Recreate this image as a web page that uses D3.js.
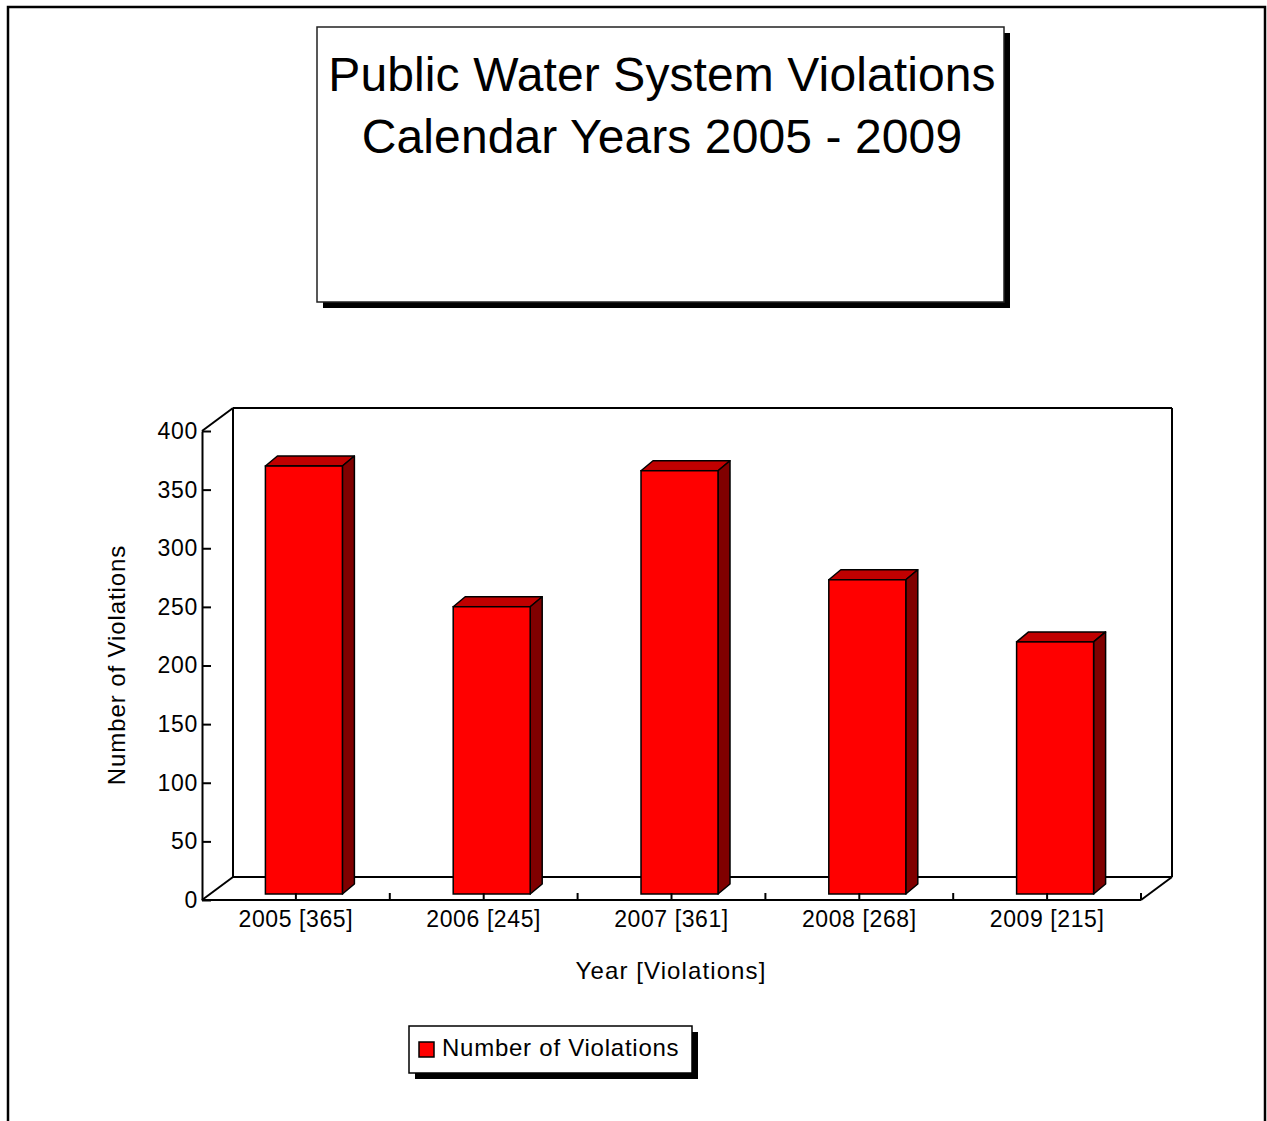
<!DOCTYPE html>
<html>
<head>
<meta charset="utf-8">
<script src="https://cdn.jsdelivr.net/npm/d3@7"></script>
<style>
  body { margin: 0; background: #fff; }
  text { font-family: "Liberation Sans", Arial, sans-serif; fill: #000; }
</style>
</head>
<body>
<div id="chart"></div>
<script>
// chart data
var years = ['2005', '2006', '2007', '2008', '2009'];
var violations = [365, 245, 361, 268, 215];
var yTicks = [0, 50, 100, 150, 200, 250, 300, 350, 400];
var titleLines = ['Public Water System Violations', 'Calendar Years 2005 - 2009'];
var seriesName = 'Number of Violations';

var width = 1267, height = 1121;

var svg = d3.select('#chart').append('svg')
    .attr('width', width)
    .attr('height', height);

// outer frame
svg.append('rect')
    .attr('x', 8).attr('y', 7)
    .attr('width', 1257).attr('height', 1140)
    .attr('fill', 'none')
    .attr('stroke', '#000')
    .attr('stroke-width', 2.5);

// title box with drop shadow
svg.append('rect')
    .attr('x', 323).attr('y', 33)
    .attr('width', 687).attr('height', 275)
    .attr('fill', '#000');
svg.append('rect')
    .attr('x', 317).attr('y', 27)
    .attr('width', 687).attr('height', 275)
    .attr('fill', '#fff')
    .attr('stroke', '#222')
    .attr('stroke-width', 1.5);

svg.append('g').selectAll('text')
    .data(titleLines)
    .enter().append('text')
    .attr('x', 662)
    .attr('y', (d, i) => 91 + i * 62)
    .attr('text-anchor', 'middle')
    .style('font-size', '48px')
    .style('letter-spacing', '0.1px')
    .text(d => d);

// plot geometry (pseudo 3D box)
var x0 = 202, x1 = 1141, yBase = 900, yTop = 431;
var depth = { dx: 31, dy: -23 };     // wall depth
var barOff = { dx: 8, dy: -6 };      // bar front face position in depth
var barDepth = { dx: 12, dy: -10 };  // bar thickness

var x = d3.scaleBand()
    .domain(years)
    .range([x0, x1]);

var y = d3.scaleLinear()
    .domain([0, 400])
    .range([yBase, yTop]);

var g = svg.append('g');

// back wall + floor outline
var line = d3.line();
var wall = [
    [[x0, y(400)], [x0 + depth.dx, y(400) + depth.dy]],
    [[x0 + depth.dx, y(400) + depth.dy], [x1 + depth.dx, y(400) + depth.dy]],
    [[x1 + depth.dx, y(400) + depth.dy], [x1 + depth.dx, yBase + depth.dy]],
    [[x0 + depth.dx, y(400) + depth.dy], [x0 + depth.dx, yBase + depth.dy]],
    [[x0 + depth.dx, yBase + depth.dy], [x1 + depth.dx, yBase + depth.dy]],
    [[x0, yBase], [x0 + depth.dx, yBase + depth.dy]],
    [[x1, yBase], [x1 + depth.dx, yBase + depth.dy]]
];
g.selectAll('path.wall')
    .data(wall)
    .enter().append('path')
    .attr('class', 'wall')
    .attr('d', line)
    .attr('fill', 'none')
    .attr('stroke', '#000')
    .attr('stroke-width', 2);

// bars
var bw = x.bandwidth() * 0.41;
var bars = g.selectAll('g.bar')
    .data(years.map((d, i) => ({ year: d, value: violations[i] })))
    .enter().append('g')
    .attr('class', 'bar');

function barGeom(d) {
    var cx = x(d.year) + x.bandwidth() / 2 + barOff.dx;
    var left = cx - bw / 2, right = cx + bw / 2;
    var bottom = y(0) + barOff.dy, top = y(d.value) + barOff.dy;
    return { left: left, right: right, bottom: bottom, top: top };
}

bars.append('path')   // top face
    .attr('d', d => {
        var b = barGeom(d);
        return line([[b.left, b.top], [b.left + barDepth.dx, b.top + barDepth.dy],
            [b.right + barDepth.dx, b.top + barDepth.dy], [b.right, b.top]]) + 'Z';
    })
    .attr('fill', '#c00000')
    .attr('stroke', '#000')
    .attr('stroke-width', 1.5)
    .attr('stroke-linejoin', 'round');

bars.append('path')   // side face
    .attr('d', d => {
        var b = barGeom(d);
        return line([[b.right, b.top], [b.right + barDepth.dx, b.top + barDepth.dy],
            [b.right + barDepth.dx, b.bottom + barDepth.dy], [b.right, b.bottom]]) + 'Z';
    })
    .attr('fill', '#800000')
    .attr('stroke', '#000')
    .attr('stroke-width', 1.5)
    .attr('stroke-linejoin', 'round');

bars.append('rect')   // front face
    .attr('x', d => barGeom(d).left)
    .attr('y', d => barGeom(d).top)
    .attr('width', bw)
    .attr('height', d => barGeom(d).bottom - barGeom(d).top)
    .attr('fill', '#ff0000')
    .attr('stroke', '#000')
    .attr('stroke-width', 1.5);

// y axis
var yAxis = d3.axisLeft(y)
    .tickValues(yTicks)
    .tickSizeInner(-9)
    .tickSizeOuter(0)
    .tickPadding(4);

var yg = svg.append('g')
    .attr('transform', 'translate(' + x0 + ',0)')
    .call(yAxis);
yg.select('.domain').attr('stroke-width', 2);
yg.selectAll('.tick line').attr('stroke-width', 2);
yg.selectAll('.tick text')
    .attr('fill', '#000')
    .style('font-size', '23px')
    .style('letter-spacing', '0.7px')
    .style('font-family', '"Liberation Sans", Arial, sans-serif');

// x axis: line, half-band ticks, labels
svg.append('path')
    .attr('d', line([[x0, yBase], [x1, yBase]]))
    .attr('stroke', '#000')
    .attr('stroke-width', 2);

var tickXs = [];
years.forEach(d => {
    tickXs.push(x(d) + x.bandwidth() / 2);
    tickXs.push(x(d) + x.bandwidth());
});
svg.append('g').selectAll('line')
    .data(tickXs)
    .enter().append('line')
    .attr('x1', d => d).attr('x2', d => d)
    .attr('y1', yBase).attr('y2', yBase - 7)
    .attr('stroke', '#000')
    .attr('stroke-width', 2);

svg.append('g').selectAll('text')
    .data(years)
    .enter().append('text')
    .attr('x', d => x(d) + x.bandwidth() / 2)
    .attr('y', 927)
    .attr('text-anchor', 'middle')
    .style('font-size', '23px')
    .style('letter-spacing', '0.6px')
    .text((d, i) => d + ' [' + violations[i] + ']');

// axis titles
svg.append('text')
    .attr('x', 671).attr('y', 979)
    .attr('text-anchor', 'middle')
    .style('font-size', '24px')
    .style('letter-spacing', '1.1px')
    .text('Year [Violations]');

svg.append('text')
    .attr('transform', 'translate(125,665) rotate(-90)')
    .attr('text-anchor', 'middle')
    .style('font-size', '24px')
    .style('letter-spacing', '0.9px')
    .text('Number of Violations');

// legend
svg.append('rect')
    .attr('x', 415).attr('y', 1032)
    .attr('width', 283).attr('height', 47)
    .attr('fill', '#000');
svg.append('rect')
    .attr('x', 409).attr('y', 1026)
    .attr('width', 283).attr('height', 47)
    .attr('fill', '#fff')
    .attr('stroke', '#000')
    .attr('stroke-width', 1.5);
svg.append('rect')
    .attr('x', 419).attr('y', 1042)
    .attr('width', 15).attr('height', 15)
    .attr('fill', '#ff0000')
    .attr('stroke', '#000')
    .attr('stroke-width', 1.5);
svg.append('text')
    .attr('x', 442).attr('y', 1056)
    .style('font-size', '24px')
    .style('letter-spacing', '0.75px')
    .text(seriesName);
</script>
</body>
</html>
